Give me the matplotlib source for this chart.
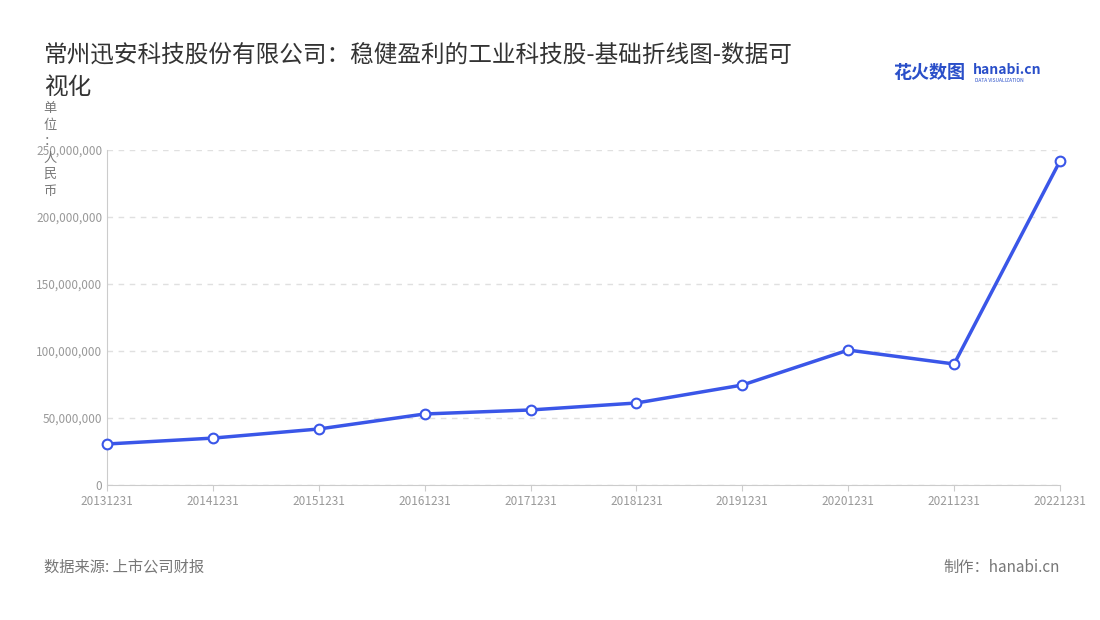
import matplotlib
matplotlib.use('Agg')
import matplotlib.pyplot as plt
from matplotlib.ticker import FuncFormatter

plt.rcParams['font.family'] = ['Noto Sans CJK SC', 'DejaVu Sans']

dates = ['20131231', '20141231', '20151231', '20161231', '20171231',
         '20181231', '20191231', '20201231', '20211231', '20221231']
values = [30.6e6, 35.0e6, 41.8e6, 53.0e6, 56.0e6,
          61.2e6, 74.6e6, 100.7e6, 90.3e6, 241.8e6]

fig = plt.figure(figsize=(11, 6.2), dpi=100)
ax = fig.add_axes([107 / 1100, 1 - 485 / 620, 953 / 1100, 335 / 620])

x = list(range(len(dates)))
ax.plot(x, values, color='#3a56e8', lw=2.5, marker='o', markersize=7,
        markerfacecolor='white', markeredgecolor='#3a56e8', markeredgewidth=1.5,
        zorder=3, clip_on=False)

ax.set_xlim(0, len(dates) - 1)
ax.set_ylim(0, 250e6)
ax.set_yticks([0, 50e6, 100e6, 150e6, 200e6, 250e6])
ax.yaxis.set_major_formatter(FuncFormatter(lambda v, p: f'{int(v):,}'))
ax.set_xticks(x)
ax.set_xticklabels(dates)
ax.tick_params(axis='both', colors='#999999', labelsize=8.5, length=0)
ax.tick_params(axis='x', length=4, color='#cccccc')
ax.grid(axis='y', color='#e0e0e0', linestyle=(0, (4, 4)), lw=1)
for s in ['top', 'right']:
    ax.spines[s].set_visible(False)
ax.spines['left'].set_color('#cccccc')
ax.spines['bottom'].set_color('#cccccc')

fig.text(44 / 1100, 1 - 55 / 620, '常州迅安科技股份有限公司：稳健盈利的工业科技股-基础折线图-数据可',
         fontsize=17, color='#333333', va='center')
fig.text(44 / 1100, 1 - 87 / 620, '视化', fontsize=17, color='#333333', va='center')
fig.text(50 / 1100, 1 - 150 / 620, '单\n位\n：\n人\n民\n币', fontsize=9.5, color='#777777',
         ha='center', va='center', linespacing=1.35)

fig.text(893 / 1100, 1 - 73 / 620, '花火数图', fontsize=13, color='#2a4fc9',
         va='center', fontweight='bold')
fig.text(973 / 1100, 1 - 70 / 620, 'hanabi.cn', fontsize=10, color='#2a4fc9',
         va='center', fontweight='bold')
fig.text(975 / 1100, 1 - 80 / 620, 'DATA VISUALIZATION', fontsize=3.5, color='#2a4fc9',
         va='center')

fig.text(44 / 1100, 1 - 567 / 620, '数据来源: 上市公司财报', fontsize=11, color='#777777', va='center')
fig.text(1060 / 1100, 1 - 567 / 620, '制作：hanabi.cn', fontsize=11, color='#777777',
         va='center', ha='right')

fig.savefig('out.png', dpi=100)
